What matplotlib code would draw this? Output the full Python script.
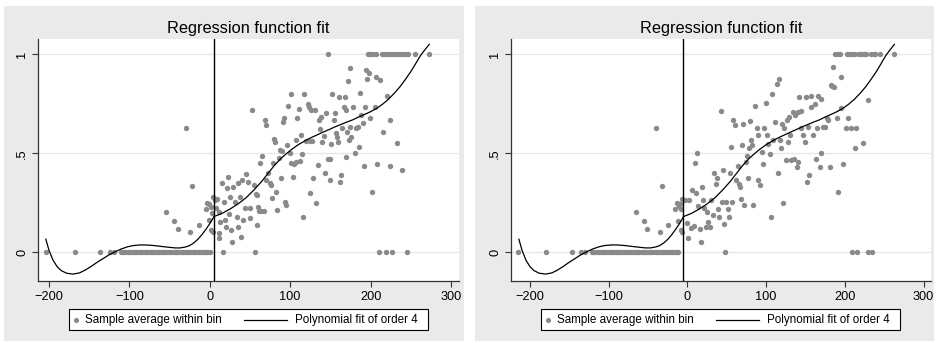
import numpy as np
import matplotlib.pyplot as plt
from matplotlib.patches import Rectangle
from matplotlib.lines import Line2D

plt.rcParams['font.family'] = ['Liberation Sans', 'DejaVu Sans']

W, H = 938, 343
BG = '#eaeaea'
DOT = '#8a8a8a'

title = 'Regression function fit'
legend_labels = ['Sample average within bin', 'Polynomial fit of order 4']
x_ticks = [-200, -100, 0, 100, 200, 300]
y_ticks = [0, 0.5, 1]
y_ticklabels = ['0', '.5', '1']

# ---- left panel (cutoff at 5) ----
cut_a = 5
zero_x_a = [-204, -168, -137, -124, -119,
            -111, -108, -105, -102, -99, -96, -93, -90, -87, -84, -81, -78, -75,
            -72, -69, -66, -63, -60, -57, -54, -51, -48, -45, -42, -39, -36, -33,
            -30, -27, -24, -21, -18, -15, -12, -9, -6, -3, 0,
            16, 56.5, 211, 219, 226.5, 245.5]
one_x_a = [147.5, 196.5, 199.5, 203, 206.5, 214, 217, 220, 223, 226.5, 230,
           233.5, 237, 240, 243, 246, 255, 273]
mid_x_a = [-54.6, -44.7, -40.1, -29.7, -24.4, -22.3, -14, -5.3, -3.2, -0.7, 0.9,
           -0.7, 1.7, 3.4, 2.6, 4.2,
           6.3, 7.5, 9.2, 11.7, 14.6, 17.5, 13.3, 18.7, 11.2, 12, 22.9, 20.8, 24.9,
           24.1, 20, 27.8, 26.6, 29.1, 31.2, 34.5, 37.4, 33.3, 35.4, 40.3, 45.6,
           38.2, 41.5, 43.6, 47.7, 49.8, 50.6, 53.0, 55.2, 57.2, 58.4, 59.0, 60.3,
           61.4, 62.2, 64.3, 65.5, 67.2, 68.4, 70.5, 69.3, 72.6, 74.6, 76.7, 78.0,
           78.8, 80.0, 81.3, 82.1, 83.8, 86.2, 87.1, 88.3, 90.4, 91.2, 92.0, 93.3,
           94.5, 96.2, 97.4, 99.5, 100.7, 101.6, 103.6, 105.3, 107.0, 107.8, 109.0,
           110.7, 111.9, 114.0, 115.2, 116.1, 116.9, 119.4, 122.3, 123.5, 124.4,
           125.2, 126.4, 127.7, 128.5, 130.6, 132.6, 134.7, 136.0, 137.6, 138.9,
           140.1, 141.8, 143.0, 144.2, 147.1, 149.2, 150.0, 151.3, 152.5, 154.2,
           155.4, 156.7, 158.3, 159.6, 160.8, 161.6, 163.7, 164.9, 166.6, 167.8,
           169.1, 169.9, 171.2, 172.4, 173.2, 174.1, 174.9, 176.1, 178.2, 180.3,
           181.5, 184.4, 185.7, 186.5, 188.6, 190.6, 191.5, 192.7, 194.8, 195.6,
           198.1, 199.8, 201.8, 205.1, 207.2, 208.5, 212.2, 215.5, 220.5, 223.8,
           224.6, 232.9, 239.5]
mid_y_a = [.202, .158, .12, .626, .103, .335, .14, .217, .25, .244, .23,
           .163, .113, .10, .197, .281,
           .264, .222, .269, .205, .348, .256, .155, .163, .096, .071, .382, .323, .281,
           .194, .13, .054, .113, .332, .256, .348, .281, .177, .13, .365, .396,
           .079, .163, .222, .357, .222, .172, .716, .34, .295, .138, .29, .231,
           .209, .453, .21, .487, .21, .668, .643, .365, .399, .348, .34, .273,
           .449, .571, .559, .306, .214, .475, .517, .374, .513, .66, .677, .256,
           .239, .542, .739, .5, .8, .449, .382, .444, .455, .567, .677,
           .722, .463, .593, .497, .18, .8, .564, .749, .732, .301,
           .564, .719, .564, .374, .719, .251, .441, .668, .621, .685,
           .559, .588, .399, .702, .471, .471, .365, .547, .798, .668,
           .702, .604, .584, .559, .786, .357, .391, .626, .736, .786,
           .719, .483, .609, .865, .567, .631, .929, .584, .736, .5,
           .626, .635, .534, .803, .694, .652, .436, .732, .921, .874,
           .907, .677, .306, .732, .884, .446, .87, .609, .79, .668,
           .438, .554, .416]
fit_lo_x_a = [-204, -200, -195, -190, -185, -178, -170, -162, -155, -147, -140,
              -132, -125, -117, -110, -102, -95, -87, -80, -72, -65, -57, -50,
              -43, -37, -30, -25, -20, -15, -10, -5, 0, 5]
fit_lo_y_a = [0.066, 0.01, -0.04, -0.072, -0.092, -0.106, -0.11, -0.104, -0.09,
              -0.07, -0.05, -0.03, -0.012, 0.004, 0.017, 0.028, 0.034, 0.037,
              0.037, 0.035, 0.032, 0.028, 0.025, 0.022, 0.022, 0.027, 0.034,
              0.047, 0.065, 0.088, 0.115, 0.145, 0.178]
fit_hi_x_a = [5, 15, 25, 35, 45, 55, 65, 72, 80, 88, 95, 102, 110, 118, 125,
              133, 140, 148, 155, 163, 170, 178, 185, 193, 200, 208, 215, 222,
              230, 237, 244, 250, 256, 262, 268, 273]
fit_hi_y_a = [0.18, 0.196, 0.218, 0.244, 0.275, 0.315, 0.36, 0.396, 0.437, 0.472,
              0.497, 0.52, 0.543, 0.562, 0.577, 0.592, 0.605, 0.619, 0.632,
              0.645, 0.657, 0.669, 0.683, 0.697, 0.71, 0.728, 0.748, 0.772,
              0.805, 0.838, 0.877, 0.912, 0.952, 0.993, 1.025, 1.05]

# ---- right panel (cutoff at -5) ----
cut_b = -5
zero_x_b = [-215, -179, -147, -135, -130,
            -121, -118, -115, -112, -109, -106, -103, -100, -97, -94, -91, -88,
            -85, -82, -79, -76, -73, -70, -67, -64, -61, -58, -55, -52, -49, -46,
            -43, -40, -37, -34, -31, -28, -25, -22, -19, -16, -13, -11.5,
            47.5, 209.5, 215.5, 229, 235]
one_x_b = [188, 191, 194.5, 202.5, 206, 209.5, 213, 218, 221, 224, 226.5,
           233.5, 236.5, 239, 245, 262.5]
mid_x_b = [-65.4, -55.2, -51, -40, -34.9, -32.8, -25.2, -15.8, -13.3, -10.8,
           -8.6, -6.9, -11.6, -8.2, -7.4, -9.5,
           -3.1, 0.3, -1, 2, 4.1, 6.2, 7.9, 9.6, 10.4, 12.1, 13.8, 15.9, 17.2,
           18.0, 19.3, 21.4, 23.1, 24.4, 26.5, 28.6, 29.9, 32.0, 34.1, 35.8, 37.1,
           39.2, 40.5, 42.2, 43.4, 45.6, 46.8, 48.9, 51.1, 52.8, 54, 55.3, 56.1,
           58.3, 60.4, 61.6, 63.8, 65.5, 66.7, 68, 69.7, 71, 72.2, 73.9, 75.2,
           76.5, 78.2, 79.4, 80.7, 82.4, 83.7, 85.8, 87.9, 89.2, 90.0, 92.1, 94.2,
           96.4, 97.6, 99.7, 101.4, 102.7, 104.8, 106.1, 106.9, 109, 111.2, 113.3,
           114.6, 116.3, 117.5, 118.8, 120.5, 121.8, 123, 124.7, 126, 128.1,
           129.4, 131, 132.3, 133.6, 134.9, 136.6, 138.7, 140, 140.8, 142.1,
           143.8, 145, 147.2, 149.3, 150.5, 151.8, 153.5, 154.8, 156.5, 157.7,
           159.9, 162, 163.2, 164.9, 166.2, 168.3, 169.6, 170.4, 172.6, 174.7,
           176.8, 178.9, 181, 182.3, 183.9, 186.5, 185.3, 189.5, 190.8, 195,
           195.8, 198, 204.3, 200.9, 208.5, 213.6, 212.8, 223.4, 229.7]
mid_y_b = [.202, .158, .12, .626, .103, .335, .14, .219, .251, .234,
           .219, .269, .16, .113, .10, .244,
           .264, .071, .15, .264, .125, .315, .133, .449, .298, .5, .236, .116, .054,
           .332, .264, .222, .126, .202, .155, .126, .264, .189, .399, .343, .374,
           .217, .18, .714, .256, .416, .141, .256, .219, .18, .399, .534, .256,
           .668, .643, .365, .438, .343, .332, .268, .542, .646, .239, .458, .487,
           .377, .525, .663, .567, .542, .239, .739, .63, .365, .593, .34, .508,
           .444, .626, .756, .593, .547, .495, .18, .8, .567, .66, .85,
           .402, .874, .567, .525, .648, .251, .626, .466, .668, .559,
           .685, .593, .466, .71, .47, .694, .433, .458, .71, .786,
           .715, .626, .593, .559, .786, .357, .635, .391, .79, .736,
           .593, .749, .47, .626, .79, .429, .773, .5, .631, .635,
           .677, .668, .433, .845, .84, .833, .938, .677, .306, .731,
           .884, .446, .677, .626, .626, .626, .525, .554, .769]
fit_lo_x_b = [-214, -210, -205, -200, -195, -188, -180, -172, -165, -157, -150,
              -142, -135, -127, -120, -112, -105, -97, -90, -82, -75, -67, -60,
              -53, -47, -40, -35, -30, -25, -20, -15, -10, -5]
fit_lo_y_b = fit_lo_y_a
fit_hi_x_b = [-5, 5, 15, 25, 35, 45, 55, 62, 70, 78, 85, 92, 100, 108, 115,
              123, 130, 138, 145, 153, 160, 168, 175, 183, 190, 198, 205, 212,
              220, 227, 234, 240, 246, 252, 258, 263]
fit_hi_y_b = fit_hi_y_a


def px_rect(x0, y0, x1, y1):
    return [x0 / W, 1 - y1 / H, (x1 - x0) / W, (y1 - y0) / H]


def draw_panel(fig, bg, box, key, xlim, cut, zero_x, one_x, mid_x, mid_y,
               lo_x, lo_y, hi_x, hi_y):
    # gray backdrop of the graph region
    r = px_rect(*bg)
    fig.add_artist(Rectangle((r[0], r[1]), r[2], r[3], transform=fig.transFigure,
                             facecolor=BG, edgecolor='none', zorder=0))

    ax = fig.add_axes(px_rect(*box))
    ax.set_facecolor('white')
    ax.set_xlim(*xlim)
    ax.set_ylim(-0.145, 1.077)

    ax.scatter(zero_x, np.zeros(len(zero_x)), s=15, color=DOT, linewidths=0, zorder=3)
    ax.scatter(one_x, np.ones(len(one_x)), s=15, color=DOT, linewidths=0, zorder=3)
    ax.scatter(mid_x, mid_y, s=15, color=DOT, linewidths=0, zorder=3)
    ax.plot(lo_x, lo_y, color='black', lw=0.9, zorder=4)
    ax.plot(hi_x, hi_y, color='black', lw=0.9, zorder=4)
    ax.axvline(cut, color='black', lw=1.0, zorder=4)

    ax.set_xticks(x_ticks)
    ax.set_yticks(y_ticks)
    ax.set_yticklabels(y_ticklabels, rotation=90, va='center')
    ax.yaxis.grid(True, color='#e6e6e6', lw=0.9)
    ax.set_axisbelow(True)
    for s in ['top', 'right']:
        ax.spines[s].set_visible(False)
    for s in ['left', 'bottom']:
        ax.spines[s].set_color('#333333')
        ax.spines[s].set_linewidth(0.9)
    ax.tick_params(direction='out', length=4, width=0.8, color='#333333',
                   labelsize=9.2, pad=3)
    ax.set_title(title, fontsize=11.8, pad=4)

    # legend drawn as a key box under the plot
    k = px_rect(*key)
    fig.add_artist(Rectangle((k[0], k[1]), k[2], k[3], transform=fig.transFigure,
                             facecolor='white', edgecolor='black', lw=0.8, zorder=2))
    yc = 1 - (key[1] + key[3]) / 2 / H
    lx = key[0]
    fig.add_artist(Line2D([(lx + 7) / W], [yc], marker='o', ms=3.7, color=DOT,
                          mec='none', lw=0, transform=fig.transFigure, zorder=3))
    fig.text((lx + 16) / W, yc, legend_labels[0], va='center', fontsize=8.4, zorder=3)
    fig.add_artist(Line2D([(lx + 175) / W, (lx + 218) / W], [yc, yc], color='black',
                          lw=0.9, transform=fig.transFigure, zorder=3))
    fig.text((lx + 226) / W, yc, legend_labels[1], va='center', fontsize=8.4, zorder=3)
    return ax


fig = plt.figure(figsize=(W / 100, H / 100), dpi=100, facecolor='white')

draw_panel(fig, (4, 6, 464, 341), (38, 39, 459, 281), (69, 309, 428, 330),
           (-213.7, 310), cut_a, zero_x_a, one_x_a, mid_x_a, mid_y_a,
           fit_lo_x_a, fit_lo_y_a, fit_hi_x_a, fit_hi_y_a)
draw_panel(fig, (475, 6, 934, 341), (511, 39, 931, 281), (541, 309, 900, 330),
           (-224, 309.5), cut_b, zero_x_b, one_x_b, mid_x_b, mid_y_b,
           fit_lo_x_b, fit_lo_y_b, fit_hi_x_b, fit_hi_y_b)

fig.savefig('out.png', dpi=100)
